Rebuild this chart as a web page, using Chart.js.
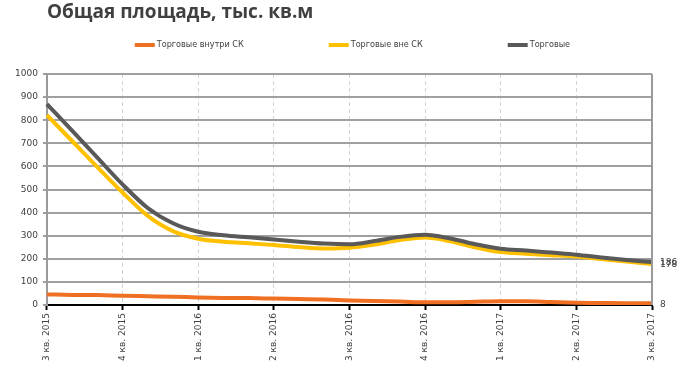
<!DOCTYPE html>
<html><head><meta charset="utf-8">
<script src="https://cdn.jsdelivr.net/npm/chart.js@4"></script>
<style>html,body{margin:0;padding:0;background:#fff}#wrap{width:700px;height:368px;position:relative}</style>
</head><body><div id="wrap"><canvas id="c" width="700" height="368"></canvas></div>
<script>
const chartTitle = 'Общая площадь, тыс. кв.м';
const monthLabels = ['3 кв. 2015','','','4 кв. 2015','','','1 кв. 2016','','','2 кв. 2016','','','3 кв. 2016','','','4 кв. 2016','','','1 кв. 2017','','','2 кв. 2017','','','3 кв. 2017'];
const seriesNames = ['Торговые внутри СК','Торговые вне СК','Торговые'];
const insideSK  = [46,44,43,40,38,36,33,31,30,28,26,24,20,17,15,12,12,14,16,16,13,10,9,8,8];
const outsideSK = [822,710,597,487,386,320,287,274,267,260,251,245,248,262,281,292,276,249,229,222,216,210,199,188,178];
const totalTrade= [870,755,638,522,420,354,317,302,293,284,274,266,263,277,295,304,288,263,244,236,227,218,206,195,186];
const yMin = 0, yMax = 1000, yStep = 100;
const colors = ['#F07023','#FFC000','#595959'];

const decor = {
  id:'decor',
  afterDraw(chart){
    const ctx = chart.ctx, ca = chart.chartArea, ys = chart.scales.y;
    ctx.save();
    ctx.strokeStyle = '#9a9a9a'; ctx.lineWidth = 2;
    ctx.beginPath(); ctx.moveTo(ca.right, ca.top); ctx.lineTo(ca.right, ca.bottom); ctx.stroke();
    ctx.font = '9px "DejaVu Sans"'; ctx.fillStyle = '#404040';
    ctx.textBaseline = 'middle'; ctx.textAlign = 'left';
    chart.data.datasets.forEach(ds => {
      const v = ds.data[ds.data.length-1];
      ctx.fillText(String(v), ca.right + 8, ys.getPixelForValue(v) + 1);
    });
    ctx.font = 'bold 19px "Open Sans"'; ctx.fillStyle = '#404040';
    ctx.textBaseline = 'alphabetic';
    ctx.fillText(chartTitle, ca.left, 18);
    // legend
    ctx.font = '9px "DejaVu Sans Condensed", "DejaVu Sans"'; ctx.textBaseline = 'middle';
    const gap = 85, lw = 20, tg = 2, ly = 45;
    const widths = chart.data.datasets.map(ds => lw + tg + ctx.measureText(ds.label).width);
    const total = widths.reduce((a,b)=>a+b,0) + gap*(widths.length-1);
    let x = (ca.left + ca.right)/2 + 3 - total/2;
    chart.data.datasets.forEach((ds,i) => {
      ctx.fillStyle = ds.borderColor;
      ctx.fillRect(x, ly-2, lw, 4);
      ctx.fillStyle = '#404040';
      ctx.fillText(ds.label, x + lw + tg, ly);
      x += widths[i] + gap;
    });
    ctx.restore();
  }
};

new Chart(document.getElementById('c'), {
  type:'line',
  data:{
    labels: monthLabels,
    datasets:[
      {label:seriesNames[0], data:insideSK, borderColor:colors[0], backgroundColor:colors[0], borderWidth:4, pointRadius:0, cubicInterpolationMode:'monotone', order:2},
      {label:seriesNames[1], data:outsideSK, borderColor:colors[1], backgroundColor:colors[1], borderWidth:4, pointRadius:0, cubicInterpolationMode:'monotone', order:1},
      {label:seriesNames[2], data:totalTrade, borderColor:colors[2], backgroundColor:colors[2], borderWidth:4, pointRadius:0, cubicInterpolationMode:'monotone', order:0}
    ]
  },
  options:{
    responsive:false, animation:false, devicePixelRatio:1,
    layout:{padding:{top:74,left:10,right:48,bottom:4}},
    plugins:{legend:{display:false}, title:{display:false}, tooltip:{enabled:false}},
    scales:{
      x:{
        offset:false,
        grid:{
          color: c => (c.tick && c.tick.label !== '' && c.index !== 0 && c.index !== monthLabels.length-1) ? '#d4d4d4' : 'rgba(0,0,0,0)',
          lineWidth:1, tickLength:5,
          tickColor: c => (c.tick && c.tick.label !== '') ? '#000' : 'rgba(0,0,0,0)',
          tickWidth:2
        },
        border:{display:true, color:'#000', width:2, dash:[4,3]},
        ticks:{autoSkip:false, minRotation:90, maxRotation:90, padding:3, color:'#404040', font:{family:'DejaVu Sans', size:9}}
      },
      y:{
        min:yMin, max:yMax,
        grid:{color: c => c.tick && c.tick.value === 0 ? 'rgba(0,0,0,0)' : '#a0a0a0', lineWidth:2, tickLength:4, tickColor:'#a0a0a0'},
        border:{display:true, color:'#9a9a9a', width:2},
        ticks:{stepSize:yStep, padding:5, color:'#404040', font:{family:'DejaVu Sans', size:9}, callback: v => String(v)}
      }
    }
  },
  plugins:[decor]
});
</script></body></html>
